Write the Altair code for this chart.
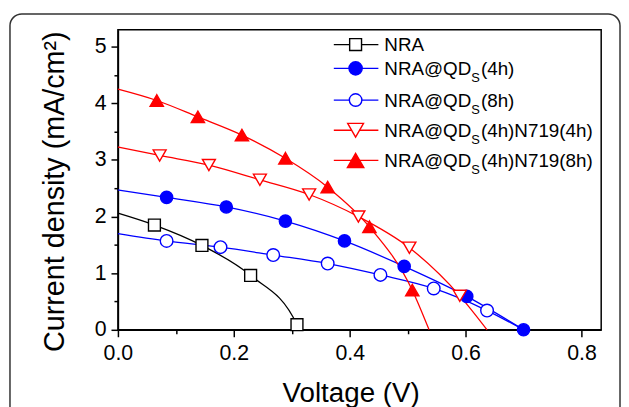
import altair as alt
import pandas as pd

# ---------------- data ----------------
series = ["NRA", "NRA@QDS(4h)", "NRA@QDS(8h)", "NRA@QDS(4h)N719(4h)", "NRA@QDS(4h)N719(8h)"]
label_prefix = ["NRA", "NRA@QD", "NRA@QD", "NRA@QD", "NRA@QD"]
label_sub = ["", "S", "S", "S", "S"]
label_suffix = ["", "(4h)", "(8h)", "(4h)N719(4h)", "(4h)N719(8h)"]

# short-circuit current density (V = 0) and open-circuit voltage (J = 0)
jsc = [2.06, 2.47, 1.70, 3.23, 4.25]
voc = [0.313, 0.700, 0.700, 0.637, 0.537]

# marker points
nra_v = [0.063, 0.145, 0.229, 0.309]
nra_j = [1.85, 1.49, 0.96, 0.09]
qd4_v = [0.084, 0.187, 0.289, 0.391, 0.494, 0.602, 0.700]
qd4_j = [2.34, 2.17, 1.92, 1.57, 1.12, 0.59, 0.00]
qd8_v = [0.084, 0.177, 0.268, 0.362, 0.453, 0.545, 0.637]
qd8_j = [1.57, 1.46, 1.32, 1.17, 0.97, 0.73, 0.34]
n4_v = [0.072, 0.157, 0.245, 0.330, 0.415, 0.503, 0.590]
n4_j = [3.08, 2.91, 2.65, 2.39, 2.00, 1.45, 0.60]
n8_v = [0.067, 0.138, 0.214, 0.289, 0.362, 0.434, 0.508]
n8_j = [4.05, 3.76, 3.44, 3.03, 2.52, 1.82, 0.70]

marker_v = [nra_v, qd4_v, qd8_v, n4_v, n8_v]
marker_j = [nra_j, qd4_j, qd8_j, n4_j, n8_j]

x_ticks = [0.0, 0.2, 0.4, 0.6, 0.8]
x_minor = [0.1, 0.3, 0.5, 0.7]
y_ticks = [0, 1, 2, 3, 4, 5]
y_minor = [0.5, 1.5, 2.5, 3.5, 4.5]

# ---------------- styles ----------------
colors = ["#000000", "#0000ff", "#0000ff", "#ff0000", "#ff0000"]
fills = ["#ffffff", "#0000ff", "#ffffff", "#ffffff", "#ff0000"]
shapes = ["square", "circle", "circle", "triangle-down", "triangle-up"]
sizes = [144, 180, 160, 255, 275]
FONT = "Liberation Sans"

line_rows, pt_rows = [], []
for i, s in enumerate(series):
    pts = [(0.0, jsc[i])] + list(zip(marker_v[i], marker_j[i]))
    if marker_j[i][-1] > 0:
        pts.append((voc[i], 0.0))
    for v, j in pts:
        line_rows.append({"series": s, "v": v, "j": j})
    for v, j in zip(marker_v[i], marker_j[i]):
        pt_rows.append({"series": s, "v": v, "j": j})
line_df = pd.DataFrame(line_rows)
pt_df = pd.DataFrame(pt_rows)

xs = alt.Scale(domain=[0, 0.834], nice=False, zero=False)
ys = alt.Scale(domain=[0, 5.3], nice=False, zero=False)

axis_common = dict(grid=False, domainColor="black", domainWidth=1.5, tickColor="black",
                   tickWidth=1.5, labelColor="black", labelFont=FONT, labelFontSize=21.5,
                   labelFlush=False, labelOverlap=False,
                   titleFont=FONT, titleColor="black", titleFontWeight="normal")

x_axis = alt.Axis(values=x_ticks, format=".1f", tickSize=7, labelPadding=6, orient="bottom",
                  title="Voltage (V)", titleFontSize=28, titlePadding=16, titleX=235,
                  **axis_common)
y_axis = alt.Axis(values=y_ticks, format="d", tickSize=7, labelPadding=5, orient="left",
                  title="Current density (mA/cm²)", titleFontSize=29, titlePadding=25, titleY=163,
                  **axis_common)
x_axis_minor = alt.Axis(values=x_minor, labels=False, tickSize=4, domain=False, orient="bottom",
                        title=None, grid=False, tickColor="black", tickWidth=1.5)
y_axis_minor = alt.Axis(values=y_minor, labels=False, tickSize=4, domain=False, orient="left",
                        title=None, grid=False, tickColor="black", tickWidth=1.5)

lines = alt.Chart(line_df).mark_line(interpolate="monotone", strokeWidth=1.3).encode(
    x=alt.X("v:Q", scale=xs, axis=x_axis),
    y=alt.Y("j:Q", scale=ys, axis=y_axis),
    color=alt.Color("series:N", scale=alt.Scale(domain=series, range=colors), legend=None),
    detail="series:N",
)

points = alt.Chart(pt_df).mark_point(filled=True, strokeWidth=1.4, opacity=1).encode(
    x=alt.X("v:Q", scale=xs, axis=None),
    y=alt.Y("j:Q", scale=ys, axis=None),
    shape=alt.Shape("series:N", scale=alt.Scale(domain=series, range=shapes), legend=None),
    fill=alt.Fill("series:N", scale=alt.Scale(domain=series, range=fills), legend=None),
    stroke=alt.Stroke("series:N", scale=alt.Scale(domain=series, range=colors), legend=None),
    size=alt.Size("series:N", scale=alt.Scale(domain=series, range=sizes), legend=None),
)

minor = alt.Chart(line_df).mark_point(opacity=0).encode(
    x=alt.X("v:Q", scale=xs, axis=x_axis_minor),
    y=alt.Y("j:Q", scale=ys, axis=y_axis_minor),
)

# ---------------- custom legend (pixel layout inside the plot) ----------------
legend_y = [15, 39, 71, 101.5, 132]     # row centres
LINE_X0, LINE_X1, SYM_X, TEXT_X = 218, 263, 240, 269
MAIN_FS, SUB_FS = 19, 13
adv = {"N": 0.722, "R": 0.722, "A": 0.667, "@": 1.015, "Q": 0.778, "D": 0.722, "S": 0.667}

legend_layers = []
for i, s in enumerate(series):
    yc = legend_y[i]
    one = pd.DataFrame({"series": [s]})
    legend_layers.append(
        alt.Chart(one).mark_rule(color=colors[i], strokeWidth=1.3).encode(
            x=alt.value(LINE_X0), x2=alt.value(LINE_X1), y=alt.value(yc))
    )
    legend_layers.append(
        alt.Chart(one).mark_point(shape=shapes[i], filled=True, fill=fills[i], stroke=colors[i],
                                  strokeWidth=1.4, size=sizes[i], opacity=1).encode(
            x=alt.value(SYM_X), y=alt.value(yc))
    )
    base = yc + 6.8
    legend_layers.append(
        alt.Chart(pd.DataFrame({"t": [label_prefix[i]]})).mark_text(
            align="left", baseline="alphabetic", font=FONT, fontSize=MAIN_FS, color="black").encode(
            x=alt.value(TEXT_X), y=alt.value(base), text="t:N")
    )
    if label_sub[i]:
        sub_x = TEXT_X + sum(adv[c] for c in label_prefix[i]) * MAIN_FS
        legend_layers.append(
            alt.Chart(pd.DataFrame({"t": [label_sub[i]]})).mark_text(
                align="left", baseline="alphabetic", font=FONT, fontSize=SUB_FS, color="black").encode(
                x=alt.value(sub_x), y=alt.value(base + 7), text="t:N")
        )
        suf_x = sub_x + adv["S"] * SUB_FS + 1
        legend_layers.append(
            alt.Chart(pd.DataFrame({"t": [label_suffix[i]]})).mark_text(
                align="left", baseline="alphabetic", font=FONT, fontSize=MAIN_FS, color="black").encode(
                x=alt.value(suf_x), y=alt.value(base), text="t:N")
        )

# rounded outer figure frame
frame = alt.Chart(pd.DataFrame({"f": [0]})).mark_rect(
    fill="transparent", stroke="#333333", strokeWidth=1.5, cornerRadius=12).encode(
    x=alt.value(-109), x2=alt.value(507), y=alt.value(-16), y2=alt.value(400))

chart = alt.layer(lines, points, minor, *legend_layers, frame).resolve_axis(
    x="independent", y="independent"
).properties(
    width=488, height=303,
    autosize=alt.AutoSizeParams(type="none"),
    padding={"left": 111, "top": 20, "right": 20, "bottom": 76},
).configure_view(stroke="black", strokeWidth=1.5)

chart.save("out.html", embed_options={"renderer": "svg", "actions": False})
